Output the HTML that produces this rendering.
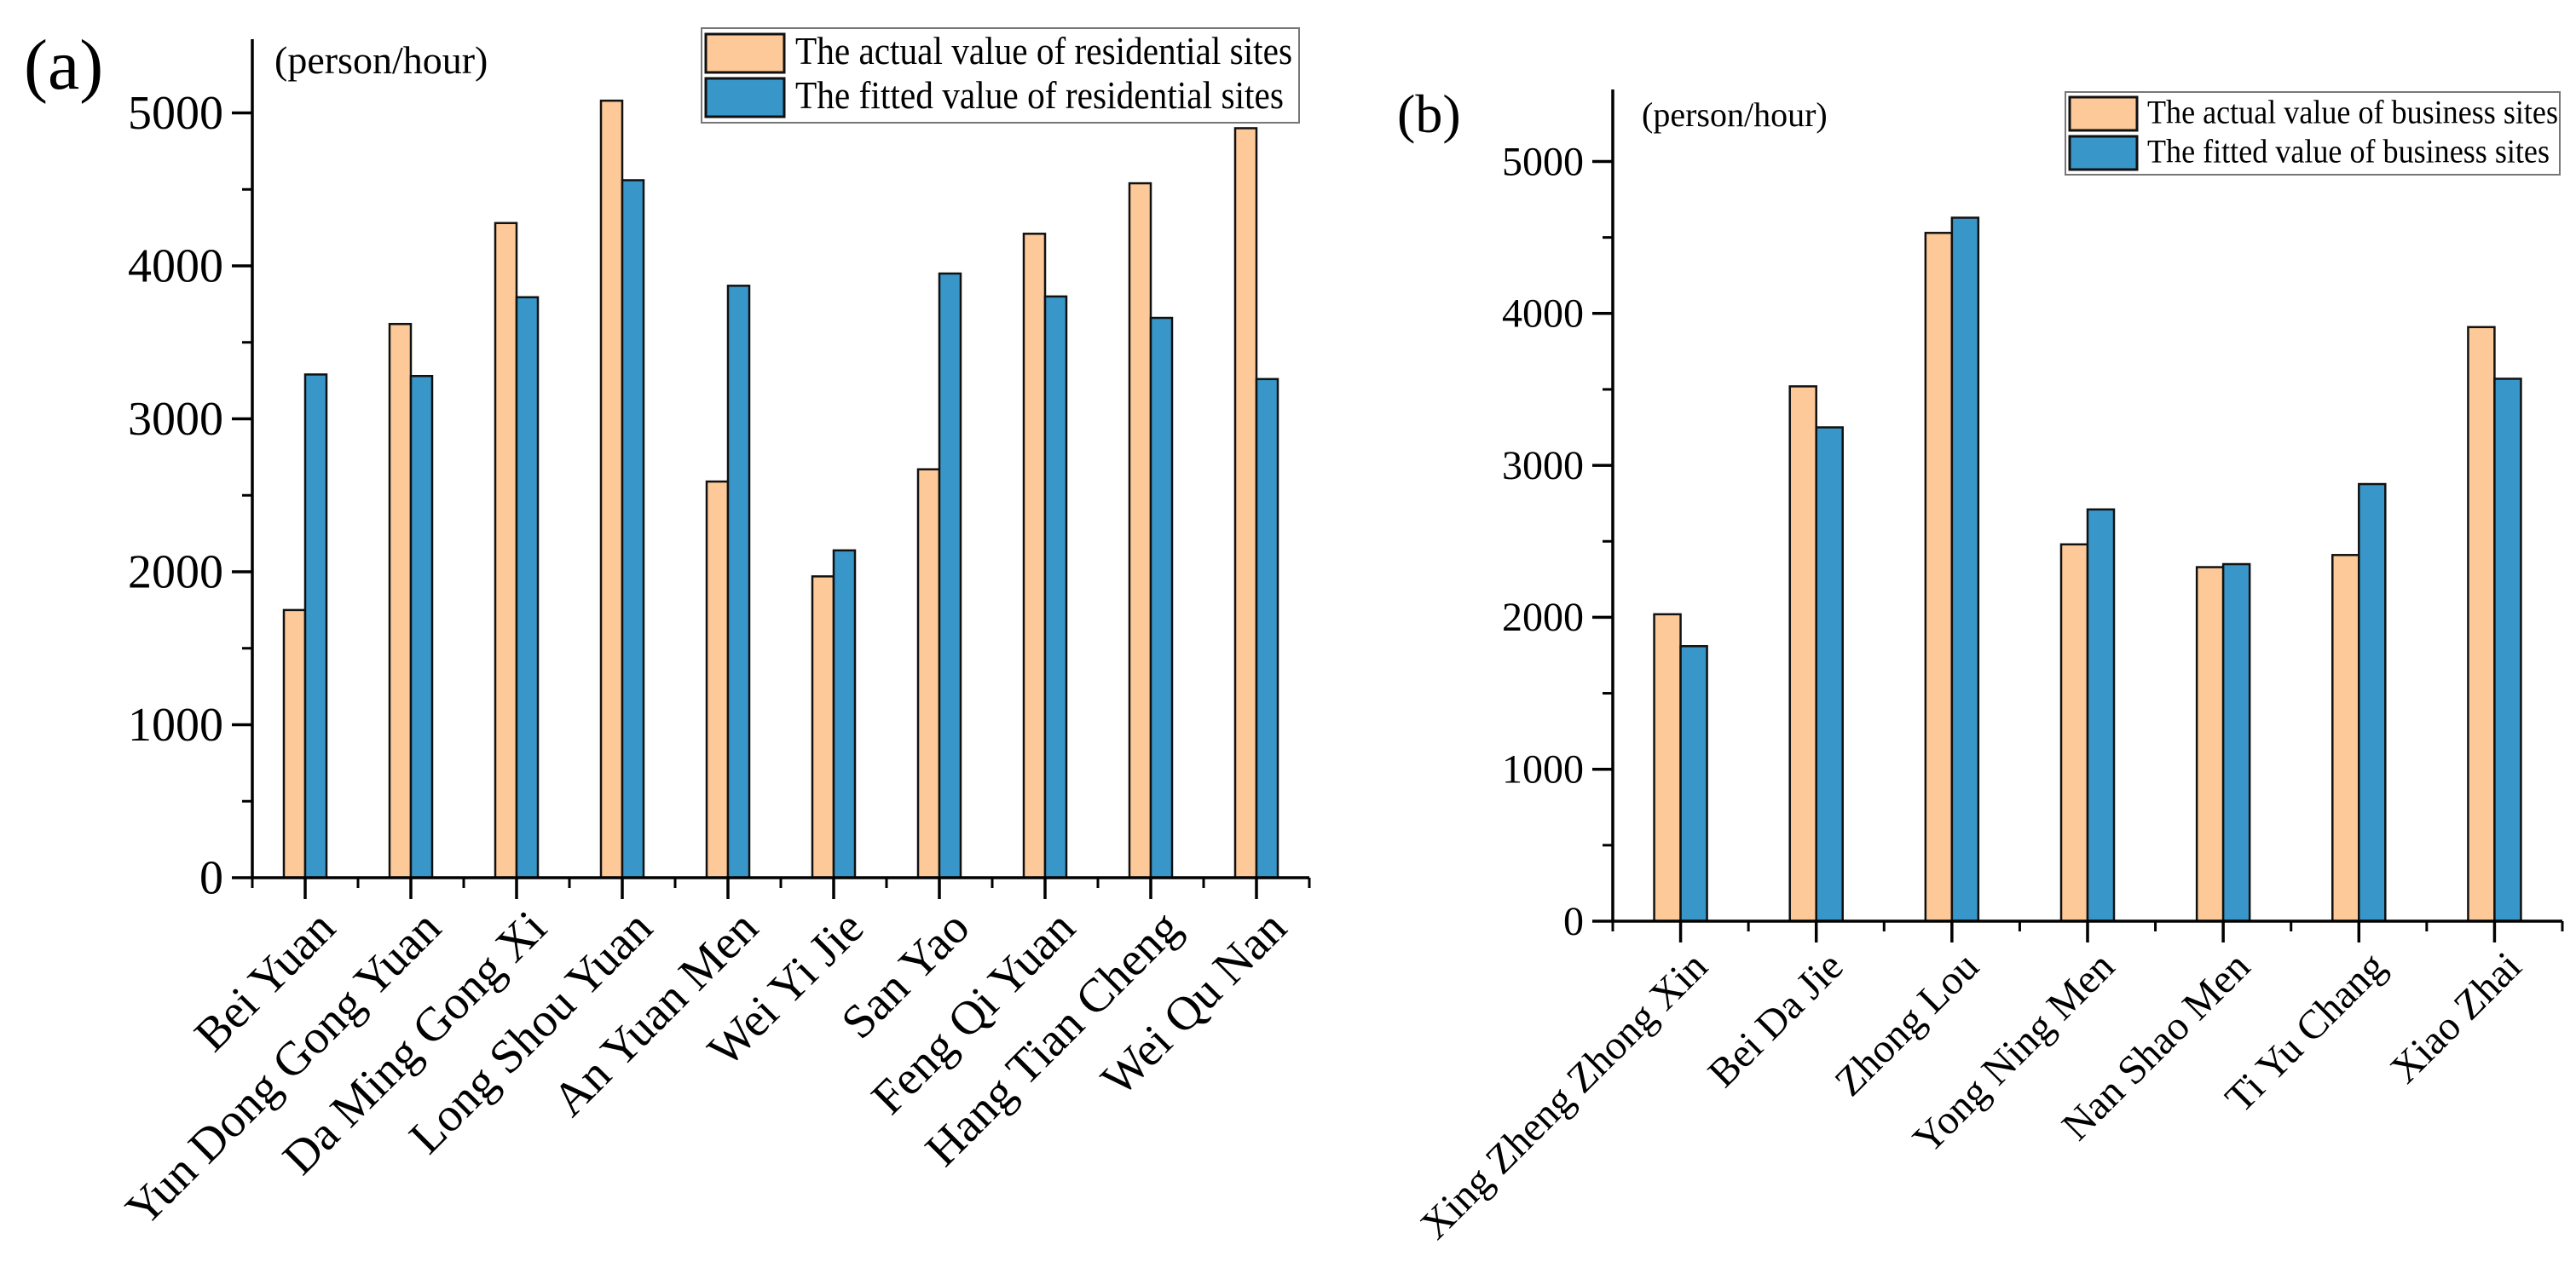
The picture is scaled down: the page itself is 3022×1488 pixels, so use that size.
<!DOCTYPE html>
<html><head><meta charset="utf-8"><style>
html,body{margin:0;padding:0;background:#fff;}
svg{display:block;font-family:"Liberation Serif",serif;}
</style></head><body>
<svg id="fig" width="3022" height="1488" viewBox="0 0 3022 1488" xmlns="http://www.w3.org/2000/svg"></svg>
<script>
// Panel (a) data
const catsA = ["Bei Yuan","Yun Dong Gong Yuan","Da Ming Gong Xi","Long Shou Yuan","An Yuan Men","Wei Yi Jie","San Yao","Feng Qi Yuan","Hang Tian Cheng","Wei Qu Nan"];
const actualA = [1750,3620,4280,5080,2590,1970,2670,4210,4540,4900];
const fittedA = [3290,3280,3795,4560,3870,2140,3950,3800,3660,3260];
const ticksA = [0,1000,2000,3000,4000,5000];
// Panel (b) data
const catsB = ["Xing Zheng Zhong Xin","Bei Da Jie","Zhong Lou","Yong Ning Men","Nan Shao Men","Ti Yu Chang","Xiao Zhai"];
const actualB = [2020,3520,4530,2480,2330,2410,3910];
const fittedB = [1810,3250,4630,2710,2350,2877,3570];
const ticksB = [0,1000,2000,3000,4000,5000];

const NS="http://www.w3.org/2000/svg";
const svg=document.getElementById('fig');
function mk(tag,attrs,parent){const e=document.createElementNS(NS,tag);for(const k in attrs)e.setAttribute(k,attrs[k]);(parent||svg).appendChild(e);return e;}

function panel(cfg){
  const g=mk('g',{});
  
  
  const y=v=>cfg.y0-v*cfg.perK/1000;
  const n=cfg.cats.length, step=(cfg.x1-cfg.x0)/n;
  const cx=i=>cfg.x0+(i+0.5)*step;
  for(let i=0;i<n;i++){
    const a=mk('rect',{x:cx(i)-cfg.bw,y:y(cfg.actual[i]),width:cfg.bw,height:cfg.y0-y(cfg.actual[i]),fill:'#FDC998',stroke:'#111','stroke-width':2.5},g);
    
    
    const b=mk('rect',{x:cx(i),y:y(cfg.fitted[i]),width:cfg.bw,height:cfg.y0-y(cfg.fitted[i]),fill:'#3897C8',stroke:'#111','stroke-width':2.5},g);
    
    
  }
  const ax=mk('path',{d:`M${cfg.x0} ${cfg.top} V${cfg.y0} H${cfg.x1}`,fill:'none',stroke:'#000','stroke-width':3.5},g);
  
  
  cfg.ticks.forEach(t=>{
    mk('line',{x1:cfg.x0-24,x2:cfg.x0,y1:y(t),y2:y(t),stroke:'#000','stroke-width':3.5},g);
    const m=y(t+500);
    if(m>cfg.top) mk('line',{x1:cfg.x0-12,x2:cfg.x0,y1:m,y2:m,stroke:'#000','stroke-width':3},g);
    const tl=mk('text',{x:cfg.x0-34,y:y(t)+cfg.fs*0.33,'text-anchor':'end','font-size':cfg.fs},g);
    tl.textContent=t;
    
    
  });
  for(let i=0;i<=n;i++){
    mk('line',{x1:cfg.x0+i*step,x2:cfg.x0+i*step,y1:cfg.y0,y2:cfg.y0+12,stroke:'#000','stroke-width':3},g);
  }
  for(let i=0;i<n;i++){
    mk('line',{x1:cx(i),x2:cx(i),y1:cfg.y0,y2:cfg.y0+25,stroke:'#000','stroke-width':3.5},g);
    const lx=cx(i)+cfg.lo[0], ly=cfg.y0+cfg.lo[1];
    const t=mk('text',{x:lx,y:ly,'text-anchor':'end','font-size':cfg.fs,transform:`rotate(-45 ${lx} ${ly})`},g);
    t.textContent=cfg.cats[i];
    
    
  }
  const u=mk('text',{x:cfg.unit[0],y:cfg.unit[1],'font-size':cfg.unit[2]},g);
  u.textContent='(person/hour)';
  
  
  const p=mk('text',{x:cfg.letter[0],y:cfg.letter[1],'font-size':cfg.letter[2]},g);
  p.textContent=cfg.letterText;
  
  
  const L=cfg.leg;
  const lg=mk('g',{},g);
  
  
  mk('rect',{x:L.x,y:L.y,width:L.w,height:L.h,fill:'#fff',stroke:'#777','stroke-width':2},lg);
  [['#FDC998',L.t1],['#3897C8',L.t2]].forEach((e,k)=>{
    const sy=L.y+L.sy[k];
    const sw=mk('rect',{x:L.x+5,y:sy,width:L.sw,height:L.sh,fill:e[0],stroke:'#111','stroke-width':3},lg);
    
    
    const tt=mk('text',{x:L.tx,y:sy+L.sh*0.78,'font-size':L.fs,textLength:L.tl[k],lengthAdjust:'spacingAndGlyphs'},lg);
    tt.textContent=e[1];
    
    
  });
}

panel({name:'chart-a',cats:catsA,actual:actualA,fitted:fittedA,ticks:ticksA,
  x0:296,x1:1536,y0:1030,top:46,perK:179.5,bw:25,fs:56,lo:[38,62],
  unit:[322,86,46],letter:[28,104,84],letterText:'(a)',
  leg:{x:823,y:33,w:701,h:111,sy:[7,59],sw:92,sh:45,tx:933,fs:46,tl:[583,573],
    t1:'The actual value of residential sites',t2:'The fitted value of residential sites'}});
panel({name:'chart-b',cats:catsB,actual:actualB,fitted:fittedB,ticks:ticksB,
  x0:1892,x1:3006,y0:1081,top:105,perK:178.3,bw:31,fs:48,lo:[34,56],
  unit:[1926,148,40],letter:[1639,155,64],letterText:'(b)',
  leg:{x:2423,y:108,w:580,h:97,sy:[6,52],sw:79,sh:39,tx:2519,fs:39,tl:[482,472],
    t1:'The actual value of business sites',t2:'The fitted value of business sites'}});
</script>
</body></html>
